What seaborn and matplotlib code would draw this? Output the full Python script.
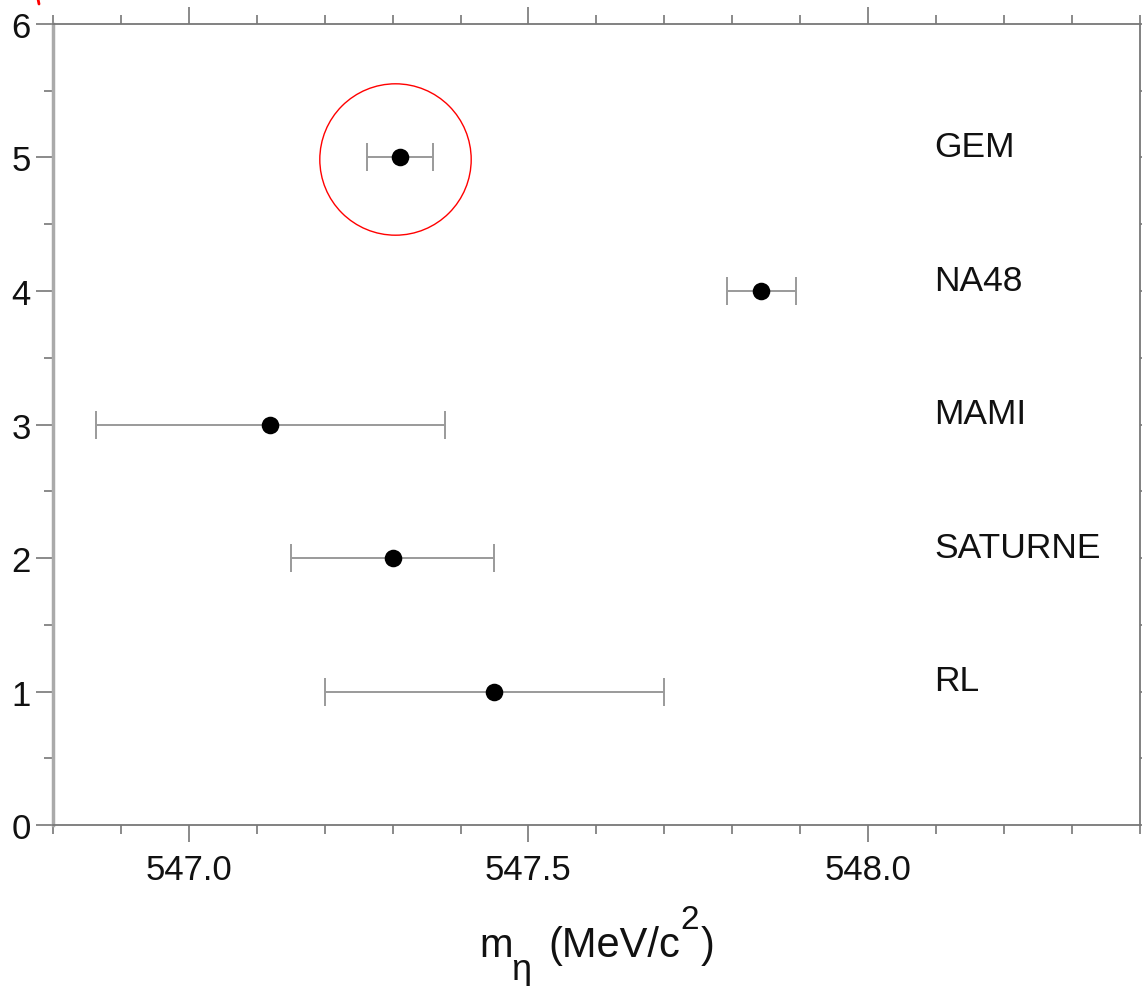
import matplotlib
matplotlib.use("Agg")
import matplotlib.pyplot as plt
from matplotlib.ticker import MultipleLocator, FormatStrFormatter
from matplotlib.lines import Line2D
import seaborn as sns
import pandas as pd

experiments = ["RL", "SATURNE", "MAMI", "NA48", "GEM"]
positions = [1, 2, 3, 4, 5]
mass = [547.45, 547.30, 547.12, 547.843, 547.311]
error = [0.25, 0.15, 0.257, 0.051, 0.048]
highlight = "GEM"

df = pd.DataFrame({"exp": experiments, "pos": positions, "mass": mass, "err": error})

sns.set_theme(style="ticks")
plt.rcParams["font.family"] = ["Liberation Sans", "DejaVu Sans"]

W, H = 1142, 987
fig = plt.figure(figsize=(W / 100, H / 100), dpi=100)
ax = fig.add_axes([0.0464, 0.163, 0.9516, 0.8117])

ax.errorbar(df["mass"], df["pos"], xerr=df["err"], fmt="none", ecolor="#9a9a9a",
            elinewidth=1.4, capsize=10, capthick=1.4, zorder=2)
sns.scatterplot(data=df, x="mass", y="pos", ax=ax, color="black", s=160,
                edgecolor="black", linewidth=0, zorder=3, legend=False)

for _, r in df.iterrows():
    ax.text(548.097, r["pos"] + 0.08, r["exp"], fontsize=25.5, ha="left", va="center",
            color="#111111")

h = df[df["exp"] == highlight].iloc[0]
ax.plot([h["mass"] - 0.008], [h["pos"] - 0.012], marker="o", markersize=109,
        markerfacecolor="none", markeredgecolor="red", markeredgewidth=1.0, zorder=4)

ax.set_xlim(546.8, 548.4)
ax.set_ylim(0, 6)
ax.xaxis.set_major_locator(MultipleLocator(0.5))
ax.xaxis.set_minor_locator(MultipleLocator(0.1))
ax.xaxis.set_major_formatter(FormatStrFormatter("%.1f"))
ax.yaxis.set_major_locator(MultipleLocator(1))
ax.yaxis.set_minor_locator(MultipleLocator(0.5))

ax.tick_params(which="both", direction="out", top=True, right=True, colors="#777777",
               labelcolor="#111111", labelsize=25, width=1.2)
ax.tick_params(which="major", length=12, pad=4)
ax.tick_params(which="minor", length=6.5)
ax.tick_params(axis="x", pad=8)

for s in ["top", "bottom", "right"]:
    ax.spines[s].set_color("#777777")
    ax.spines[s].set_linewidth(1.3)
ax.spines["left"].set_color("#aaaaaa")
ax.spines["left"].set_linewidth(2.5)

ax.set_xlabel("")
ax.set_ylabel("")

# x-axis title built from pieces (large subscript / superscript as in the reference)
def ftext(x, y, s, size):
    return fig.text(x / W, 1 - y / H, s, fontsize=size, ha="left", va="baseline",
                    color="#111111")

ftext(479, 957, "m", 29)
ftext(511, 980, "η", 26)
ftext(548, 957, "(MeV/c", 30)
ftext(680, 929, "2", 24)
ftext(701, 957, ")", 30)

fig.add_artist(Line2D([38 / W, 39 / W], [1.0, 982 / H], color="red", linewidth=2,
                      transform=fig.transFigure))

fig.savefig("out.png", dpi=100)
